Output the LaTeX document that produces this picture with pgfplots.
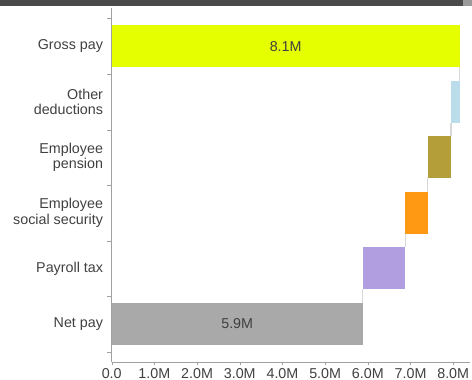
\documentclass[border=0pt]{standalone}
\usepackage{fontspec}
\setmainfont{Liberation Sans}
\usepackage{pgfplots}
\pgfplotsset{compat=1.18}
\definecolor{grosscol}{HTML}{E5FF00}
\definecolor{netcol}{HTML}{A9A9A9}
\definecolor{paycol}{HTML}{B09EE0}
\definecolor{sscol}{HTML}{FF9914}
\definecolor{pencol}{HTML}{B49E3A}
\definecolor{othcol}{HTML}{BADCEB}
\definecolor{txt}{HTML}{404040}
\definecolor{axcol}{HTML}{A0A0A0}
\definecolor{conn}{HTML}{D8D8D8}
\definecolor{banddark}{HTML}{4A4A4A}
\definecolor{bandlight}{HTML}{9A9A9A}
\begin{document}
\begin{tikzpicture}
\begin{axis}[
  scale only axis, width=358.6pt, height=354pt,
  xmin=0, xmax=8.4, ymin=-0.685, ymax=5.69,
  axis x line=bottom, axis y line=left,
  axis line style={-, draw=axcol},
  xbar stacked, bar width=0.756,
  xtick={0,1,2,3,4,5,6,7,8},
  xticklabels={0.0,1.0M,2.0M,3.0M,4.0M,5.0M,6.0M,7.0M,8.0M},
  ytick={0,1,2,3,4,5},
  yticklabels={Net pay,Payroll tax,Employee\\social security,Employee\\pension,Other\\deductions,Gross pay},
  minor ytick={-0.5,0.5,1.5,2.5,3.5,4.5,5.5},
  tick align=outside, major tick length=3pt, minor tick length=4.5pt,
  every major y tick/.append style={draw=none},
  tick style={draw=axcol},
  ticklabel style={font=\fontsize{14.3}{15.5}\selectfont, text=txt},
  yticklabel style={align=right, inner sep=0pt, xshift=-5.5pt},
  xticklabel style={inner sep=0pt, yshift=-3pt},
]
\addplot[draw=none, fill=none] coordinates {(0,0) (5.88,1) (6.88,2) (7.40,3) (7.95,4) (0,5)};
\addplot[draw=none, fill=netcol] coordinates {(5.88,0) (0,1) (0,2) (0,3) (0,4) (0,5)};
\addplot[draw=none, fill=paycol] coordinates {(0,0) (1.00,1) (0,2) (0,3) (0,4) (0,5)};
\addplot[draw=none, fill=sscol] coordinates {(0,0) (0,1) (0.52,2) (0,3) (0,4) (0,5)};
\addplot[draw=none, fill=pencol] coordinates {(0,0) (0,1) (0,2) (0.55,3) (0,4) (0,5)};
\addplot[draw=none, fill=othcol] coordinates {(0,0) (0,1) (0,2) (0,3) (0.20,4) (0,5)};
\addplot[draw=none, fill=grosscol] coordinates {(0,0) (0,1) (0,2) (0,3) (0,4) (8.15,5)};
\addplot[sharp plot, stack plots=false, conn, line width=1.2pt] coordinates {(8.15,4.622) (8.15,4.378)};
\addplot[sharp plot, stack plots=false, conn, line width=1.2pt] coordinates {(7.95,3.622) (7.95,3.378)};
\addplot[sharp plot, stack plots=false, conn, line width=1.2pt] coordinates {(7.40,2.622) (7.40,2.378)};
\addplot[sharp plot, stack plots=false, conn, line width=1.2pt] coordinates {(6.88,1.622) (6.88,1.378)};
\addplot[sharp plot, stack plots=false, conn, line width=1.2pt] coordinates {(5.88,0.622) (5.88,0.378)};
\coordinate (glab) at (axis cs:4.075,5);
\coordinate (nlab) at (axis cs:2.94,0);
\end{axis}
\node[font=\fontsize{14.3}{15.5}\selectfont, text=txt] at (glab) {8.1M};
\node[font=\fontsize{14.3}{15.5}\selectfont, text=txt] at (nlab) {5.9M};
\fill[banddark] (-111.7pt,356pt) rectangle (351.3pt,362pt);
\fill[bandlight] (351.3pt,356pt) rectangle (360.3pt,362pt);
\path[use as bounding box] (-111.7pt,-18pt) rectangle (360.3pt,362pt);
\end{tikzpicture}
\end{document}
